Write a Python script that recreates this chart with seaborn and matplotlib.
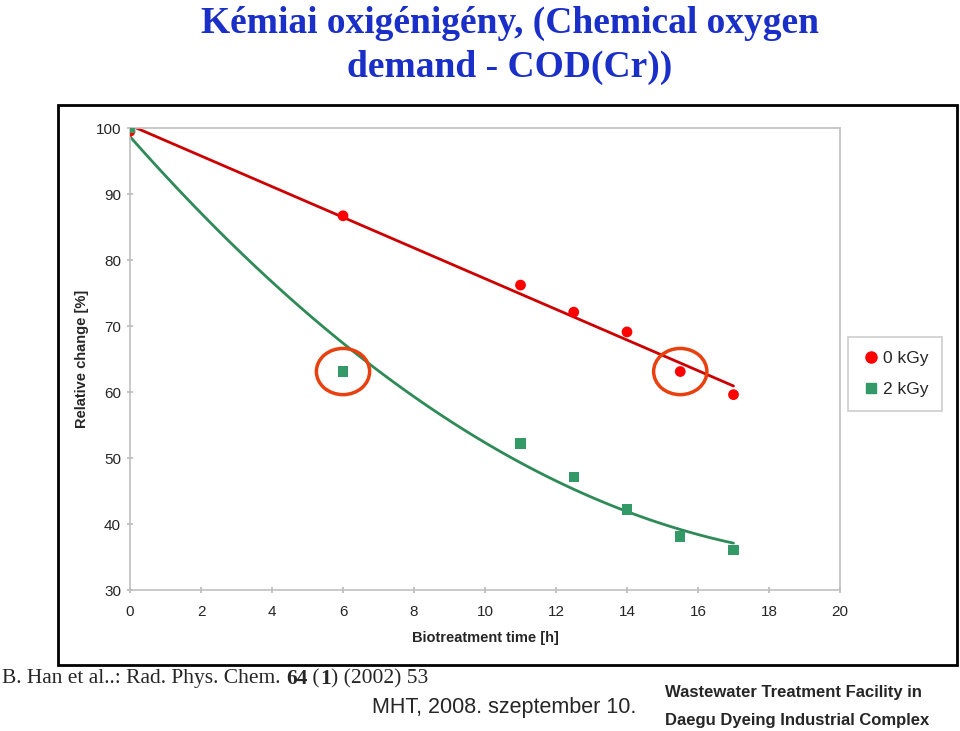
import numpy as np
import pandas as pd
import seaborn as sns
import matplotlib.pyplot as plt
from matplotlib.patches import Ellipse, Rectangle
from matplotlib.lines import Line2D

# data
time_h = [0, 6, 11, 12.5, 14, 15.5, 17]
cod_0kgy = [99.5, 86.7, 76.2, 72.1, 69.1, 63.1, 59.6]
cod_2kgy = [100.0, 63.1, 52.2, 47.1, 42.2, 38.1, 36.1]
x_ticks = list(range(0, 21, 2))
y_ticks = list(range(30, 101, 10))
circled = [(6, 63.1), (15.5, 63.1)]

df = pd.DataFrame({"time": time_h, "0 kGy": cod_0kgy, "2 kGy": cod_2kgy})

sns.set_theme(style="white")
plt.rcParams["font.family"] = ["Liberation Sans", "DejaVu Sans"]

fig = plt.figure(figsize=(9.6, 7.31), dpi=100)
ax = fig.add_axes([130 / 960, 1 - 590 / 731, 710 / 960, 462 / 731])

red_line = "#CC0000"
red_pt = "#FF0000"
green_line = "#2E8B57"
green_pt = "#339966"

# trend lines (linear for 0 kGy, 2nd order polynomial for 2 kGy)
sns.regplot(data=df, x="time", y="0 kGy", order=1, scatter=False, ci=None,
            ax=ax, line_kws={"color": red_line, "lw": 2})
sns.regplot(data=df, x="time", y="2 kGy", order=2, scatter=False, ci=None,
            ax=ax, line_kws={"color": green_line, "lw": 2})

sns.scatterplot(data=df, x="time", y="0 kGy", ax=ax, marker="o", s=60,
                color=red_pt, edgecolor="none", zorder=3)
sns.scatterplot(data=df, x="time", y="2 kGy", ax=ax, marker="s", s=55,
                color=green_pt, edgecolor="none", zorder=3)

for cx, cy in circled:
    ax.add_patch(Ellipse((cx, cy), 1.5, 7.0, fill=False, ec="#E8400F", lw=2.5, zorder=4))

ax.set_xlim(0, 20)
ax.set_ylim(30, 100)
ax.set_xticks(x_ticks)
ax.set_yticks(y_ticks)
ax.tick_params(axis="both", labelsize=11, length=5, color="#BBBBBB",
               left=True, bottom=True, direction="inout")
ax.tick_params(axis="y", pad=4)
ax.tick_params(axis="x", pad=8)
for sp in ax.spines.values():
    sp.set_color("#C0C0C0")
    sp.set_linewidth(1.2)
ax.set_xlabel("Biotreatment time [h]", fontsize=10.5, fontweight="bold", labelpad=9)
ax.set_ylabel("Relative change [%]", fontsize=10.5, fontweight="bold", labelpad=5)

# legend
handles = [Line2D([], [], marker="o", ls="none", color=red_pt, markersize=8),
           Line2D([], [], marker="s", ls="none", color=green_pt, markersize=7)]
leg = fig.legend(handles, ["0 kGy", "2 kGy"], loc="upper left",
                 bbox_to_anchor=(848 / 960, 1 - 337 / 731), frameon=True,
                 fontsize=12.5, handletextpad=0.2, handlelength=1.0,
                 labelspacing=0.9, borderpad=0.8, borderaxespad=0,
                 fancybox=False)
leg.get_frame().set_edgecolor("#C0C0C0")
leg.get_frame().set_linewidth(1.2)

# outer chart border
fig.patches.append(Rectangle((58 / 960, 1 - 665 / 731), 899 / 960, 560 / 731,
                             transform=fig.transFigure, fill=False,
                             ec="black", lw=2, zorder=0))

# title
serif = ["Liberation Serif", "DejaVu Serif"]
fig.text(510 / 960, 1 - 23 / 731, "Kémiai oxigénigény, (Chemical oxygen",
         ha="center", va="center", fontsize=27, fontweight="bold",
         color="#1A2FC8", family=serif)
fig.text(510 / 960, 1 - 67 / 731, "demand - COD(Cr))",
         ha="center", va="center", fontsize=27, fontweight="bold",
         color="#1A2FC8", family=serif)

# reference line with bold volume/issue
parts = [("64", "bold"), (" (", "normal"), ("1", "bold"), (") (2002) 53", "normal")]
last = fig.text(2 / 960, 1 - 679 / 731, "B. Han et al..: Rad. Phys. Chem. ",
                ha="left", va="center", fontsize=15.5, family=serif)
for txt, w in parts:
    last = ax.annotate(txt, xy=(1, 0.5), xycoords=last, ha="left", va="center",
                       fontsize=15.5, family=serif, fontweight=w,
                       annotation_clip=False)

fig.text(504 / 960, 1 - 707 / 731, "MHT, 2008. szeptember 10.", ha="center",
         va="center", fontsize=15.5)
fig.text(665 / 960, 1 - 692 / 731, "Wastewater Treatment Facility in",
         ha="left", va="center", fontsize=12, fontweight="bold")
fig.text(665 / 960, 1 - 720 / 731, "Daegu Dyeing Industrial Complex",
         ha="left", va="center", fontsize=12, fontweight="bold")

fig.savefig("out.png", dpi=100)
